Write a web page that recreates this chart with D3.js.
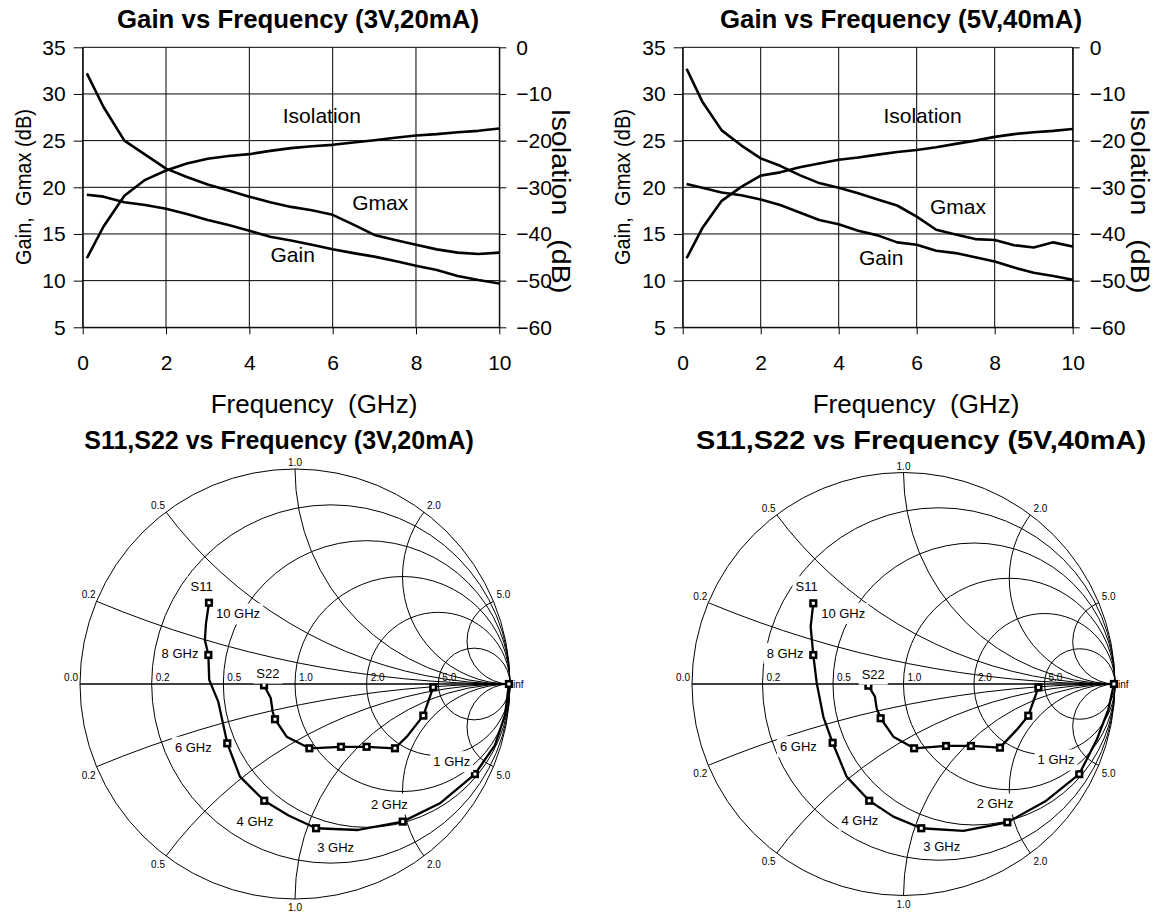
<!DOCTYPE html>
<html><head><meta charset="utf-8">
<script src="https://cdn.jsdelivr.net/npm/d3@7"></script>
<style>
html,body{margin:0;padding:0;background:#fff;}
svg{display:block;}
text{font-family:"Liberation Sans",Arial,Helvetica,sans-serif;fill:#000;white-space:pre;}
</style></head><body>
<svg id="c" width="1156" height="914"></svg>
<script>
// ---------------- data ----------------
const freq = [0.1,0.5,1,1.5,2,2.5,3,3.5,4,4.5,5,5.5,6,6.5,7,7.5,8,8.5,9,9.5,10];

const gmax3V = [32.2,28.6,25.0,23.5,22.0,21.1,20.3,19.65,19.0,18.4,17.9,17.55,17.05,16.0,14.9,14.35,13.85,13.35,13.0,12.85,13.0];
const gain3V = [19.2,19.0,18.4,18.1,17.7,17.15,16.5,15.95,15.35,14.7,14.3,13.85,13.36,12.95,12.57,12.1,11.6,11.15,10.5,10.07,9.7];
const iso3V  = [-45.2,-38.4,-31.8,-28.4,-26.4,-24.9,-23.9,-23.3,-22.9,-22.2,-21.6,-21.2,-20.9,-20.4,-19.9,-19.4,-18.9,-18.6,-18.2,-17.9,-17.4];

const gmax5V = [32.7,29.2,26.1,24.5,23.1,22.3,21.3,20.45,19.95,19.35,18.7,18.05,16.85,15.45,14.95,14.45,14.35,13.8,13.55,14.1,13.65];
const gain5V = [20.35,19.95,19.45,19.15,18.7,18.1,17.3,16.5,16.05,15.35,14.85,14.1,13.85,13.2,12.95,12.5,12.05,11.4,10.85,10.5,10.1];
const iso5V  = [-45.2,-38.8,-32.9,-29.9,-27.5,-26.8,-25.7,-24.9,-24.1,-23.6,-23.0,-22.45,-22.0,-21.4,-20.7,-20.0,-19.2,-18.6,-18.2,-17.9,-17.5];

const freqTicks = [0,2,4,6,8,10];
const gainTicks = [5,10,15,20,25,30,35];
const isoTicks  = [-60,-50,-40,-30,-20,-10,0];

// series labels inside the gain plots: [text, GHz, dB on gain axis]
const gainLabels3V = [["Isolation",5.74,26.9],["Gmax",7.14,17.57],["Gain",5.04,12.03]];
const gainLabels5V = [["Isolation",6.15,26.86],["Gmax",7.06,17.14],["Gain",5.09,11.67]];

// Smith chart grid
const smithR = [0.2,0.5,1,2,5];
const smithX = [0.2,0.5,1,2,5];
const smithRLabels = [[0,"0.0"],[0.2,"0.2"],[0.5,"0.5"],[1,"1.0"],[2,"2.0"],[5,"5.0"],[Infinity,"inf"]];
const smithXLabels = ["0.2","0.5","1.0","2.0","5.0"];

// reflection coefficients [re, im, marker]
const s11_3V = [[0.995,0,1],[0.977,-0.144],[0.930,-0.284],[0.837,-0.419,1],[0.674,-0.555],[0.501,-0.640,1],[0.294,-0.679],[0.098,-0.671,1],
  [-0.030,-0.612],[-0.143,-0.543,1],[-0.256,-0.431],[-0.315,-0.276,1],[-0.357,-0.082],[-0.399,0.019],[-0.403,0.135,1],[-0.419,0.205],[-0.414,0.282],[-0.400,0.378,1]];
const s22_3V = [[0.643,-0.015,1],[0.597,-0.147,1],[0.520,-0.245],[0.465,-0.299,1],[0.333,-0.292,1],[0.214,-0.292,1],[0.067,-0.299,1],
  [-0.039,-0.245],[-0.093,-0.164,1],[-0.104,-0.128],[-0.113,-0.065],[-0.144,-0.006,1]];
const s11_5V = [[0.995,0,1],[0.968,-0.123],[0.913,-0.265],[0.831,-0.426,1],[0.669,-0.556],[0.491,-0.654,1],[0.283,-0.694],[0.084,-0.682,1],
  [-0.048,-0.627],[-0.162,-0.552,1],[-0.269,-0.438],[-0.335,-0.278,1],[-0.379,-0.155],[-0.410,0.003],[-0.4265,0.137,1],[-0.439,0.271],[-0.4265,0.3816,1]];
const s22_5V = [[0.638,-0.016,1],[0.590,-0.150,1],[0.535,-0.217],[0.456,-0.301,1],[0.319,-0.293,1],[0.201,-0.293,1],[0.050,-0.304,1],
  [-0.048,-0.249],[-0.108,-0.162,1],[-0.127,-0.115],[-0.135,-0.060],[-0.166,-0.008,1]];

// annotations [text, re, im]
const smithNotes3V = [["S11",-0.434,0.453],["10 GHz",-0.265,0.326],["8 GHz",-0.535,0.144],["S22",-0.126,0.051],["6 GHz",-0.473,-0.294],
  ["4 GHz",-0.186,-0.640],["3 GHz",0.189,-0.760],["2 GHz",0.439,-0.558],["1 GHz",0.729,-0.361]];
const smithNotes5V = [["S11",-0.458,0.460],["10 GHz",-0.285,0.334],["8 GHz",-0.560,0.145],["S22",-0.143,0.047],["6 GHz",-0.497,-0.296],
  ["4 GHz",-0.206,-0.643],["3 GHz",0.181,-0.769],["2 GHz",0.433,-0.567],["1 GHz",0.721,-0.359]];

// ---------------- drawing ----------------
const svg = d3.select("#c");

function gainChart(o){
  const g = svg.append("g");
  const x = d3.scaleLinear().domain([0,10]).range([o.x0,o.x1]);
  const yL = d3.scaleLinear().domain([5,35]).range([o.yb,o.yt]);
  const yR = d3.scaleLinear().domain([-60,0]).range([o.yb,o.yt]);
  // grid
  g.append("g").selectAll("line").data(gainTicks).join("line")
    .attr("x1",o.x0).attr("x2",o.x1).attr("y1",d=>yL(d)).attr("y2",d=>yL(d))
    .attr("stroke","#000").attr("stroke-width",1);
  g.append("g").selectAll("line").data(freqTicks).join("line")
    .attr("x1",d=>x(d)).attr("x2",d=>x(d)).attr("y1",o.yt).attr("y2",o.yb)
    .attr("stroke","#000").attr("stroke-width",1);
  // axes
  const ax = (sel)=>{sel.attr("font-family",null);
    sel.select(".domain").attr("stroke","#000").attr("stroke-width",1);
    sel.selectAll(".tick line").attr("stroke","#000");
    sel.selectAll("text").style("font-size","21px").attr("fill","#000");};
  g.append("g").attr("transform",`translate(${o.x0},0)`)
    .call(d3.axisLeft(yL).tickValues(gainTicks).tickSize(9).tickSizeOuter(0).tickPadding(8)).call(ax);
  g.append("g").attr("transform",`translate(${o.x1},0)`)
    .call(d3.axisRight(yR).tickValues(isoTicks).tickSize(7).tickSizeOuter(0).tickPadding(10).tickFormat(d3.format("d"))).call(ax);
  g.append("g").attr("transform",`translate(0,${o.yb})`)
    .call(d3.axisBottom(x).tickValues(freqTicks).tickSize(7).tickSizeOuter(0).tickPadding(21)).call(ax);
  // series
  const mk = (vals, yS)=> d3.line().x((d,i)=>x(freq[i])).y(d=>yS(d))(vals);
  [[o.gmax,yL],[o.gain,yL],[o.iso,yR]].forEach(([v,s])=>{
    g.append("path").attr("d",mk(v,s)).attr("fill","none").attr("stroke","#000").attr("stroke-width",2.6).attr("stroke-linejoin","round");
  });
  // inline labels
  g.append("g").selectAll("text").data(o.labels).join("text")
    .attr("x",d=>x(d[1])).attr("y",d=>yL(d[2])).attr("text-anchor","middle")
    .style("font-size","21px").text(d=>d[0]);
  // titles
  g.append("text").attr("x",o.tx).attr("y",28).attr("text-anchor","middle")
    .attr("textLength",362).attr("lengthAdjust","spacingAndGlyphs")
    .style("font-size","25px").style("font-weight","bold").text(o.title);
  g.append("text").attr("x",o.fx).attr("y",413).attr("text-anchor","middle")
    .style("font-size","26px").text("Frequency  (GHz)");
  g.append("text").attr("transform",`translate(${o.lx},187) rotate(-90)`).attr("text-anchor","middle")
    .attr("dy","0.35em").attr("textLength",156).attr("lengthAdjust","spacingAndGlyphs")
    .style("font-size","21.5px").text("Gain,  Gmax (dB)");
  g.append("text").attr("transform",`translate(${o.rx},201) rotate(90)`).attr("text-anchor","middle")
    .attr("dy","0.35em").attr("textLength",185).attr("lengthAdjust","spacingAndGlyphs")
    .style("font-size","25px").text("Isolation   (dB)");
}

gainChart({x0:82.7,x1:499.3,yt:47.3,yb:327.3,gmax:gmax3V,gain:gain3V,iso:iso3V,labels:gainLabels3V,
  title:"Gain vs Frequency (3V,20mA)",tx:298,fx:314,lx:23,rx:561});
gainChart({x0:682.7,x1:1072.7,yt:47.3,yb:327.3,gmax:gmax5V,gain:gain5V,iso:iso5V,labels:gainLabels5V,
  title:"Gain vs Frequency (5V,40mA)",tx:901,fx:916,lx:622,rx:1140});

function smith(o){
  const g = svg.append("g");
  const sx = d3.scaleLinear().domain([-1,1]).range([o.cx-o.R,o.cx+o.R]);
  const sy = d3.scaleLinear().domain([-1,1]).range([o.cy+o.R,o.cy-o.R]);
  const k = o.R; // pixels per unit of reflection coefficient
  const cid = "clip"+o.id;
  g.append("clipPath").attr("id",cid).append("circle").attr("cx",sx(0)).attr("cy",sy(0)).attr("r",k);
  const grid = g.append("g").attr("fill","none").attr("stroke","#000").attr("stroke-width",1);
  grid.append("circle").attr("cx",sx(0)).attr("cy",sy(0)).attr("r",k);
  grid.selectAll("circle.r").data(smithR).join("circle").attr("class","r")
    .attr("cx",r=>sx(r/(1+r))).attr("cy",sy(0)).attr("r",r=>k/(1+r));
  const xs = smithX.flatMap(v=>[v,-v]);
  grid.append("g").attr("clip-path",`url(#${cid})`).selectAll("circle").data(xs).join("circle")
    .attr("cx",sx(1)).attr("cy",v=>sy(1/v)).attr("r",v=>k/Math.abs(v));
  grid.append("line").attr("x1",sx(-1)).attr("x2",sx(1)).attr("y1",sy(0)).attr("y2",sy(0)).attr("stroke-width",1.6);
  // resistance labels on the real axis
  g.append("g").selectAll("text").data(smithRLabels).join("text")
    .attr("x",d=>{const r=d[0]; if(r===0) return sx(-1)-2; const gx = r===Infinity?1:(r-1)/(r+1); return sx(gx)+(r===Infinity?3:4);})
    .attr("y",d=>d[0]===Infinity?sy(0)+3.5:sy(0)-3).attr("text-anchor",d=>d[0]===0?"end":"start")
    .style("font-size","10px").text(d=>d[1]);
  // reactance labels round the rim
  const xl = [];
  smithX.forEach((v,i)=>{[1,-1].forEach(s=>{const xv=v*s; xl.push({gx:(xv*xv-1)/(xv*xv+1), gy:2*xv/(xv*xv+1), t:smithXLabels[i], s});});});
  g.append("g").selectAll("text").data(xl).join("text")
    .attr("x",d=>sx(d.gx)+(Math.abs(d.gx)<0.05?0:(d.gx<0?-1:3)))
    .attr("y",d=>sy(d.gy)+(d.s>0?-3:12))
    .attr("text-anchor",d=>Math.abs(d.gx)<0.05?"middle":(d.gx<0?"end":"start"))
    .style("font-size","10px").text(d=>d.t);
  // traces
  const line = d3.line().x(d=>sx(d[0])).y(d=>sy(d[1]));
  [o.s11,o.s22].forEach(tr=>{
    g.append("path").attr("d",line(tr)).attr("fill","none").attr("stroke","#000").attr("stroke-width",2.3).attr("stroke-linejoin","round");
    g.append("g").selectAll("rect").data(tr.filter(d=>d[2])).join("rect")
      .attr("x",d=>sx(d[0])-2.8).attr("y",d=>sy(d[1])-2.8).attr("width",5.6).attr("height",5.6)
      .attr("fill","#fff").attr("stroke","#000").attr("stroke-width",2.6);
  });
  // annotations with white backing
  const notes = g.append("g");
  o.notes.forEach(n=>{
    const gg = notes.append("g");
    const t = gg.append("text").attr("x",sx(n[1])).attr("y",sy(n[2])).attr("text-anchor","middle")
      .attr("dy","0.35em").style("font-size","13px").text(n[0]);
    const b = t.node().getBBox();
    gg.insert("rect","text").attr("x",b.x-3).attr("y",b.y-3).attr("width",b.width+6).attr("height",b.height+6).attr("fill","#fff");
  });
  const tt = g.append("text").attr("x",o.tx).attr("y",449).attr("text-anchor","middle")
    .style("font-size","25px").style("font-weight","bold").text(o.title);
  if(o.tw) tt.attr("textLength",o.tw).attr("lengthAdjust","spacingAndGlyphs");
}

smith({id:"a",cx:295,cy:684,R:215,s11:s11_3V,s22:s22_3V,notes:smithNotes3V,title:"S11,S22 vs Frequency (3V,20mA)",tx:279});
smith({id:"b",cx:903.5,cy:684,R:211.5,s11:s11_5V,s22:s22_5V,notes:smithNotes5V,title:"S11,S22 vs Frequency (5V,40mA)",tx:921,tw:450});
</script>
</body></html>
